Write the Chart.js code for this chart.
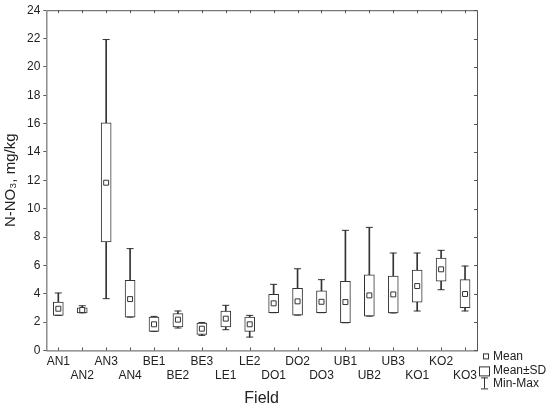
<!DOCTYPE html>
<html>
<head>
<meta charset="utf-8">
<script src="https://cdn.jsdelivr.net/npm/chart.js@4.4.1/dist/chart.umd.min.js"></script>
<style>
  html, body { margin: 0; padding: 0; background: #fff; }
  #wrap { width: 550px; height: 408px; }
</style>
</head>
<body>
<div id="wrap"><canvas id="chart"></canvas></div>
<script>
var fields  = ['AN1','AN2','AN3','AN4','BE1','BE2','BE3','LE1','LE2','DO1','DO2','DO3','UB1','UB2','UB3','KO1','KO2','KO3'];
var means   = [2.94, 2.85, 11.83, 3.62, 1.84, 2.17, 1.53, 2.24, 1.84, 3.32, 3.46, 3.43, 3.41, 3.88, 3.95, 4.54, 5.72, 3.98];
var sdLow   = [2.47, 2.65, 7.65, 2.35, 1.34, 1.65, 1.13, 1.65, 1.34, 2.66, 2.49, 2.66, 1.95, 2.42, 2.64, 3.41, 4.89, 3.01];
var sdHigh  = [3.41, 3.01, 16.05, 4.94, 2.35, 2.59, 1.93, 2.78, 2.35, 3.95, 4.38, 4.21, 4.87, 5.34, 5.25, 5.67, 6.52, 4.99];
var mins    = [2.47, 2.65, 3.65, 2.35, 1.34, 1.58, 1.06, 1.46, 0.94, 2.66, 2.49, 2.66, 1.95, 2.42, 2.64, 2.78, 4.28, 2.78];
var maxs    = [4.05, 3.15, 21.93, 7.18, 2.40, 2.78, 1.97, 3.18, 2.47, 4.66, 5.76, 4.99, 8.47, 8.68, 6.87, 6.87, 7.06, 5.95];
var yTicks  = [0, 2, 4, 6, 8, 10, 12, 14, 16, 18, 20, 22, 24];

var ink = '#333';
var font = 'Liberation Sans, Arial, sans-serif';

// frame + inward ticks on the top, right and bottom sides, and the small legend
var framePlugin = {
  id: 'frame',
  afterDraw: function(chart) {
    var ctx = chart.ctx, a = chart.chartArea;
    var xs = chart.scales.x, ys = chart.scales.y;
    ctx.save();
    ctx.strokeStyle = '#555';
    ctx.lineWidth = 1;
    ctx.strokeRect(a.left + 0.5, a.top + 0.5, a.right - a.left, a.bottom - a.top);
    ctx.beginPath();
    for (var i = 0; i < fields.length; i++) {
      var px = Math.round(xs.getPixelForTick(i)) + 0.5;
      ctx.moveTo(px, a.bottom); ctx.lineTo(px, a.bottom - 3);
      ctx.moveTo(px, a.top); ctx.lineTo(px, a.top + 3);
    }
    yTicks.forEach(function(v) {
      var py = Math.round(ys.getPixelForValue(v)) + 0.5;
      ctx.moveTo(a.right, py); ctx.lineTo(a.right - 3, py);
    });
    ctx.stroke();

    // legend
    var lx = a.right + 9, ly = a.bottom + 6;
    ctx.strokeStyle = ink;
    ctx.fillStyle = '#fff';
    ctx.strokeRect(lx - 2.5, ly - 2.5, 5, 5);
    ctx.strokeRect(lx - 6.5, ly + 10.5, 10, 9);
    ctx.beginPath();
    ctx.moveTo(lx - 1.5, ly + 21); ctx.lineTo(lx - 1.5, ly + 32);
    ctx.moveTo(lx - 5, ly + 21.5); ctx.lineTo(lx + 2, ly + 21.5);
    ctx.moveTo(lx - 5, ly + 32.5); ctx.lineTo(lx + 2, ly + 32.5);
    ctx.stroke();
    ctx.fillStyle = '#222';
    ctx.font = '12px ' + font;
    ctx.textBaseline = 'middle';
    ctx.fillText('Mean', lx + 7, ly);
    ctx.fillText('Mean\u00b1SD', lx + 7, ly + 14);
    ctx.fillText('Min-Max', lx + 7, ly + 27);
    ctx.restore();
  }
};

var ctx = document.getElementById('chart').getContext('2d');
var chart = new Chart(ctx, {
  data: {
    labels: fields,
    datasets: [{
      // whisker min..max
      type: 'bar',
      data: fields.map(function(f, i) { return [mins[i], maxs[i]]; }),
      backgroundColor: ink,
      barThickness: 1,
      grouped: false,
      order: 4
    }, {
      // box mean +- sd
      type: 'bar',
      data: fields.map(function(f, i) { return [sdLow[i], sdHigh[i]]; }),
      backgroundColor: '#fff',
      borderColor: ink,
      borderWidth: 1,
      borderSkipped: false,
      barThickness: 10,
      grouped: false,
      order: 3
    }, {
      type: 'line',
      data: maxs,
      showLine: false,
      pointStyle: 'line',
      pointRadius: 3.5,
      borderColor: ink,
      pointBorderWidth: 1,
      order: 2
    }, {
      type: 'line',
      data: mins,
      showLine: false,
      pointStyle: 'line',
      pointRadius: 3.5,
      borderColor: ink,
      pointBorderWidth: 1,
      order: 2
    }, {
      type: 'line',
      data: means,
      showLine: false,
      pointStyle: 'rect',
      pointRadius: 3.5,
      backgroundColor: '#fff',
      borderColor: ink,
      pointBorderWidth: 1,
      order: 1
    }]
  },
  plugins: [framePlugin],
  options: {
    responsive: true,
    maintainAspectRatio: false,
    animation: false,
    layout: { padding: { top: 2, right: 73, left: 2, bottom: 0 } },
    plugins: {
      legend: { display: false },
      tooltip: { enabled: false }
    },
    scales: {
      x: {
        type: 'category',
        offset: true,
        grid: { display: false, drawTicks: false },
        border: { display: false },
        ticks: {
          autoSkip: false,
          maxRotation: 0,
          padding: 5,
          color: '#222',
          font: { family: font, size: 12, lineHeight: 1.1 },
          callback: function(v, i) { return i % 2 ? ['', fields[i]] : fields[i]; }
        },
        title: { display: true, text: 'Field', color: '#222', font: { family: font, size: 16 }, padding: { top: 2, bottom: 0 } }
      },
      y: {
        min: 0,
        max: 24,
        afterBuildTicks: function(s) { s.ticks = yTicks.map(function(v) { return { value: v }; }); },
        grid: { drawOnChartArea: false, tickLength: 3, color: '#555' },
        border: { display: false },
        ticks: { padding: 3, color: '#222', font: { family: font, size: 12 } },
        title: { display: true, text: 'N-NO\u2083, mg/kg', color: '#222', font: { family: font, size: 15 }, padding: { top: 0, bottom: 4 } }
      }
    }
  }
});
</script>
</body>
</html>
